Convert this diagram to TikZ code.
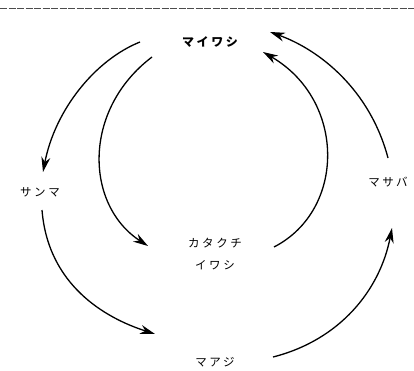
\documentclass[tikz,border=0pt]{standalone}
\usepackage{fontspec}
\newfontfamily\jpfont[LetterSpace=22]{Noto Sans CJK JP}
\usetikzlibrary{arrows.meta,positioning}

\begin{document}
\begin{tikzpicture}[x=1pt, y=-1pt,
    font=\jpfont\fontsize{11.5}{22}\selectfont,
    fish/.style={inner sep=0pt, align=center},
    flow/.style={line width=1.3pt, -{Stealth[length=15pt,width=9pt]}}]
        \useasboundingbox (0,0) rectangle (414,371);
        \draw[black!70, line width=1pt, dash pattern=on 7pt off 1.5pt] (0,9) -- (414,9);
        % fish names
        \node[fish, font=\jpfont\bfseries\fontsize{12}{22}\selectfont] (maiwashi) at (210,42) {マイワシ};
        \node[fish] (sanma) at (40,192) {サンマ};
        \node[fish] (masaba) at (388,182) {マサバ};
        \node[fish] (katakuchi) at (215,254) {カタクチ\\イワシ};
        \node[fish] (maaji) at (215,362) {マアジ};
        % left side
        \draw[flow] ([shift={(-70,0)}]maiwashi.center)
            .. controls (95,60) and (55,110) .. ([shift={(3,-20)}]sanma.center);
        \draw[flow] ([shift={(-58,15)}]maiwashi.center)
            .. controls (82,110) and (85,205) .. ([shift={(-67,-8)}]katakuchi.center);
        \draw[flow] ([shift={(2,18)}]sanma.center)
            .. controls (48,285) and (105,318) .. ([shift={(-60,-28)}]maaji.center);
        % right side
        \draw[flow] ([shift={(58,-5)}]maaji.center)
            .. controls (340,340) and (380,290) .. ([shift={(4,46)}]masaba.center);
        \draw[flow] ([shift={(0,-24)}]masaba.center)
            .. controls (370,90) and (320,50) .. ([shift={(60,-10)}]maiwashi.center);
        \draw[flow] ([shift={(59,-7)}]katakuchi.center)
            .. controls (346,210) and (346,100) .. ([shift={(53,10)}]maiwashi.center);
\end{tikzpicture}
\end{document}
